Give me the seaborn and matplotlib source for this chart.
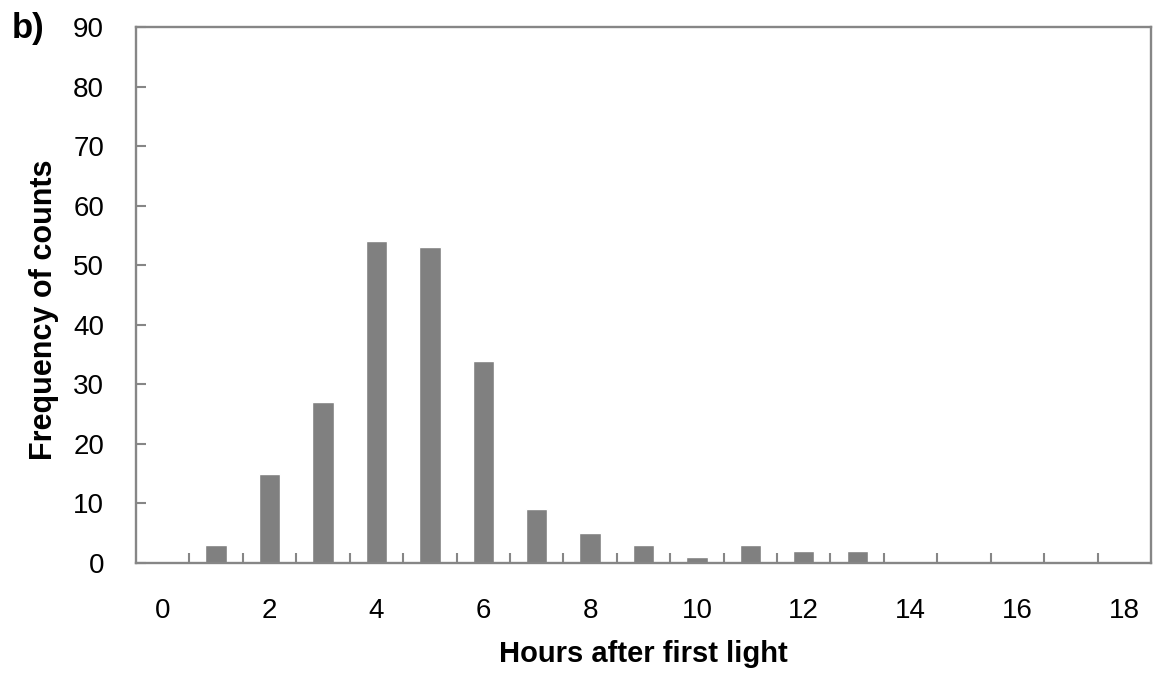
"""
Hourly distribution of counts after first light (panel b).
"""

import matplotlib
matplotlib.use("Agg")
import matplotlib.pyplot as plt
import pandas as pd
import seaborn as sns
from matplotlib.ticker import FixedLocator

# -------------------------
# Data
# -------------------------
hours = list(range(0, 19))
counts = [0, 3, 15, 27, 54, 53, 34, 9, 5, 3, 1, 3, 2, 2, 0, 0, 0, 0, 0]
tick_hours = list(range(0, 19, 2))
tick_labels = [str(h) for h in tick_hours]
y_ticks = list(range(0, 91, 10))

BAR_COLOR = "#808080"
AXIS_COLOR = "#868686"


def make_plot():
    sns.set_style("white")
    plt.rcParams["font.family"] = ["Liberation Sans", "DejaVu Sans"]
    plt.rcParams["text.color"] = "black"
    plt.rcParams["axes.labelcolor"] = "black"

    df = pd.DataFrame({"hour": hours, "count": counts})

    fig = plt.figure(figsize=(11.53, 6.73), dpi=100)
    ax = fig.add_axes([136 / 1153, 1 - 563 / 673, 1015 / 1153, 536 / 673])

    sns.barplot(data=df, x="hour", y="count", order=hours, color=BAR_COLOR,
                saturation=1, width=0.4, ax=ax)

    # -------------------------
    # Axes styling
    # -------------------------
    ax.set_xlim(-0.5, len(hours) - 0.5)
    ax.set_ylim(0, 90)

    for side in ["left", "right", "top", "bottom"]:
        ax.spines[side].set_visible(True)
        ax.spines[side].set_color(AXIS_COLOR)
        ax.spines[side].set_linewidth(1.7)

    ax.set_yticks(y_ticks)
    ax.tick_params(axis="y", which="major", direction="in", length=7,
                   width=1.5, color=AXIS_COLOR, pad=23, labelsize=20,
                   left=True, labelcolor="black")

    ax.set_xticks(tick_hours)
    ax.set_xticklabels(tick_labels)
    ax.xaxis.set_minor_locator(FixedLocator([h + 0.5 for h in hours[:-1]]))
    ax.tick_params(axis="x", which="major", length=0, pad=25, labelsize=20,
                   labelcolor="black")
    ax.tick_params(axis="x", which="minor", direction="in", length=7,
                   width=1.5, color=AXIS_COLOR, bottom=True)

    ax.set_xlabel("Hours after first light", fontsize=21, fontweight="bold",
                  color="black")
    ax.xaxis.set_label_coords(0.5, (563 - 654) / 536)
    ax.xaxis.label.set_va("center")
    ax.set_ylabel("Frequency of counts", fontsize=22, fontweight="bold",
                  color="black")
    ax.yaxis.set_label_coords((44 - 136) / 1015, (563 - 310) / 536)
    ax.yaxis.label.set_va("center")

    fig.text(12 / 1153, 1 - 12 / 673, "b)", fontsize=25, fontweight="bold",
             ha="left", va="top", color="black")

    fig.savefig("out.png", dpi=100)
    plt.close(fig)


if __name__ == "__main__":
    make_plot()
